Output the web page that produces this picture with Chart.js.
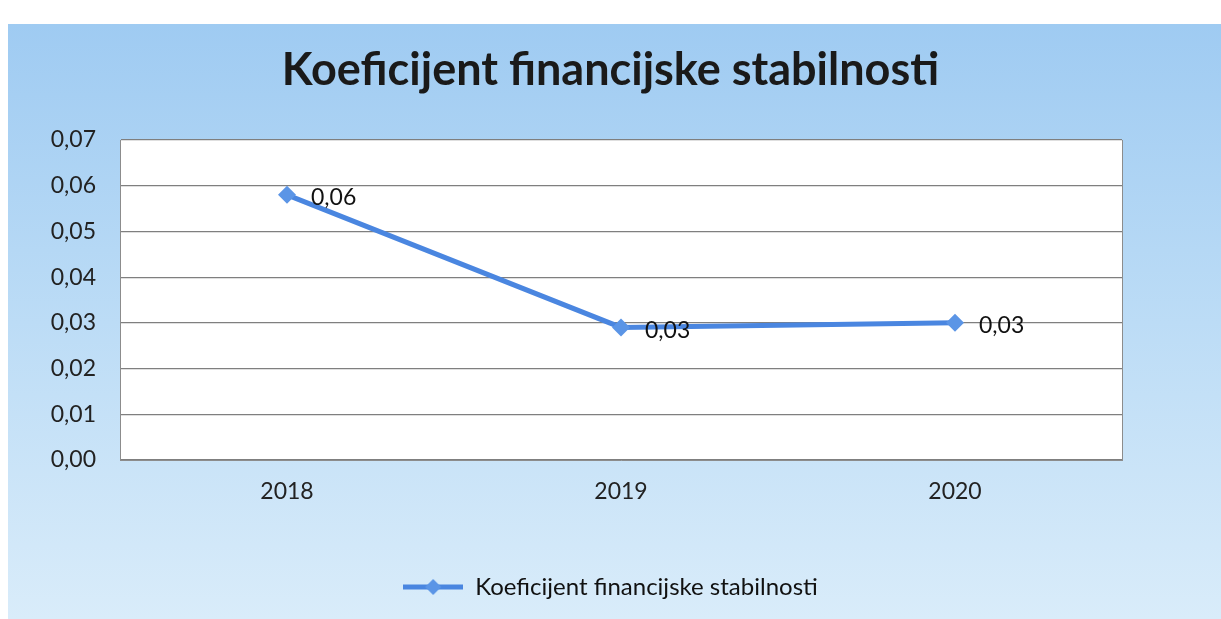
<!DOCTYPE html>
<html>
<head>
<meta charset="utf-8">
<script src="https://cdn.jsdelivr.net/npm/chart.js@4"></script>
<style>
  html, body { margin: 0; padding: 0; background: #fff; }
  #wrap { width: 1221px; height: 619px; }
</style>
</head>
<body>
<div id="wrap"><canvas id="line-Chart"></canvas></div>
<script>
const years = ["2018", "2019", "2020"];
const stability = [0.058, 0.029, 0.030];
const yTicks = [0, 0.01, 0.02, 0.03, 0.04, 0.05, 0.06, 0.07];
const seriesName = "Koeficijent financijske stabilnosti";

const blue = "#4a86e0";
const fmt = (v) => v.toFixed(2).replace(".", ",");

// legend icon: line with a diamond in the middle
const icon = document.createElement("canvas");
icon.width = 60;
icon.height = 20;
const ic = icon.getContext("2d");
ic.strokeStyle = blue;
ic.lineWidth = 5;
ic.beginPath();
ic.moveTo(0, 10);
ic.lineTo(60, 10);
ic.stroke();
ic.fillStyle = "#5b95e6";
ic.beginPath();
ic.moveTo(30, 2);
ic.lineTo(38, 10);
ic.lineTo(30, 18);
ic.lineTo(22, 10);
ic.closePath();
ic.fill();

const panelBg = {
  id: "panelBg",
  beforeDraw(chart) {
    const { ctx, chartArea: a } = chart;
    ctx.save();
    const g = ctx.createLinearGradient(0, 24, 0, 619);
    g.addColorStop(0, "#9fcbf2");
    g.addColorStop(0.5, "#bcdcf6");
    g.addColorStop(1, "#d9ecfa");
    ctx.fillStyle = g;
    ctx.fillRect(8, 24, 1213, 595);
    ctx.fillStyle = "#ffffff";
    ctx.fillRect(a.left, a.top, a.right - a.left, a.bottom - a.top);
    ctx.restore();
  },
};

const valueLabels = {
  id: "valueLabels",
  afterDatasetsDraw(chart) {
    const { ctx } = chart;
    const meta = chart.getDatasetMeta(0);
    ctx.save();
    ctx.font = "23px Lato";
    ctx.fillStyle = "#111";
    ctx.textAlign = "left";
    ctx.textBaseline = "middle";
    meta.data.forEach((pt, i) => {
      ctx.fillText(fmt(chart.data.datasets[0].data[i]), pt.x + 24, pt.y + 3);
    });
    ctx.restore();
  },
};

const lctx = document.getElementById("line-Chart");
const chart = new Chart(lctx, {
  type: "line",
  data: {
    labels: years,
    datasets: [
      {
        label: seriesName,
        data: stability,
        borderColor: blue,
        backgroundColor: "#5b95e6",
        borderWidth: 5,
        tension: 0,
        pointStyle: "rectRot",
        pointRadius: 9,
        pointBorderWidth: 0,
      },
    ],
  },
  options: {
    responsive: true,
    maintainAspectRatio: false,
    animation: false,
    layout: { padding: { left: 0, right: 0, top: 0, bottom: 10 } },
    plugins: {
      title: {
        display: true,
        text: seriesName,
        color: "#1a1a1a",
        font: { family: "Lato", size: 45, weight: "bold" },
        padding: { top: 43, bottom: 43 },
      },
      legend: {
        position: "bottom",
        labels: {
          color: "#111",
          font: { family: "Lato", size: 24 },
          usePointStyle: true,
          pointStyle: icon,
          pointStyleWidth: 60,
          padding: 10,
        },
      },
      tooltip: { enabled: false },
    },
    scales: {
      x: {
        offset: true,
        grid: { display: false, drawTicks: false },
        border: { color: "#8c8c8c" },
        ticks: { color: "#222", font: { family: "Lato", size: 23 }, padding: 18 },
        afterFit: (s) => { s.height = 105; },
      },
      y: {
        min: 0,
        max: 0.07,
        afterBuildTicks: (s) => { s.ticks = yTicks.map((v) => ({ value: v })); },
        grid: { color: "#7f7f7f", lineWidth: 1.2, drawTicks: false },
        border: { color: "#8c8c8c" },
        ticks: {
          color: "#222",
          font: { family: "Lato", size: 23 },
          padding: 24,
          callback: (v) => fmt(v),
        },
        afterFit: (s) => { s.width = 120; },
      },
      yRight: {
        position: "right",
        min: 0,
        max: 0.07,
        grid: { display: false, drawTicks: false },
        border: { display: true, color: "#8c8c8c" },
        ticks: { display: false },
        afterFit: (s) => { s.width = 99; },
      },
    },
  },
  plugins: [panelBg, valueLabels],
});
</script>
</body>
</html>
